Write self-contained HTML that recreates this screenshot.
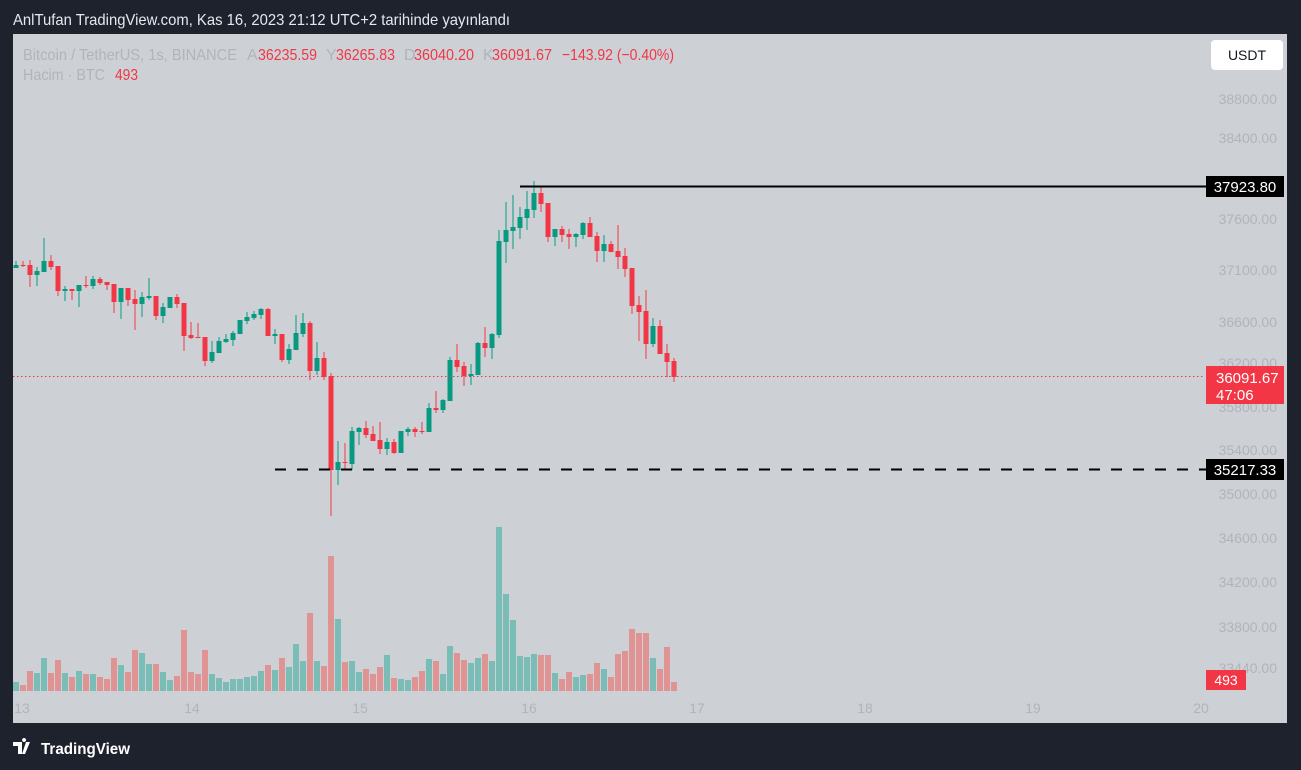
<!DOCTYPE html>
<html><head><meta charset="utf-8">
<style>
body{margin:0;width:1301px;height:770px;background:#1e222d;overflow:hidden;font-family:"Liberation Sans",sans-serif;position:relative}
.chart{position:absolute;left:13px;top:34px;width:1274px;height:689px;background:#cdd1d6}
svg{position:absolute;left:0;top:0}
</style></head><body>
<div class="chart"></div>
<svg id="s" width="1301" height="770" xmlns="http://www.w3.org/2000/svg" font-family="Liberation Sans, sans-serif">
<text x="13" y="25" font-size="16" fill="#e6e8ee" textLength="497" lengthAdjust="spacingAndGlyphs">AnlTufan TradingView.com, Kas 16, 2023 21:12 UTC+2 tarihinde yayınlandı</text>
<g font-size="14" fill="#b0b4bb" text-anchor="end">
<text x="1277" y="104">38800.00</text><text x="1277" y="143">38400.00</text><text x="1277" y="191">38000.00</text>
<text x="1277" y="224">37600.00</text><text x="1277" y="275">37100.00</text><text x="1277" y="327">36600.00</text>
<text x="1277" y="368">36200.00</text><text x="1277" y="412">35800.00</text><text x="1277" y="455">35400.00</text>
<text x="1277" y="499">35000.00</text><text x="1277" y="543">34600.00</text><text x="1277" y="587">34200.00</text>
<text x="1277" y="632">33800.00</text><text x="1277" y="673">33440.00</text>
</g>
<g font-size="14" fill="#b0b4bb" text-anchor="middle">
<text x="22" y="713">13</text><text x="192" y="713">14</text><text x="360" y="713">15</text><text x="529" y="713">16</text>
<text x="697" y="713">17</text><text x="865" y="713">18</text><text x="1033" y="713">19</text><text x="1201" y="713">20</text>
</g>
<g font-size="16">
<text x="23" y="60" fill="#b0b4bb" textLength="214" lengthAdjust="spacingAndGlyphs">Bitcoin / TetherUS, 1s, BINANCE</text>
<text x="247" y="60" fill="#b0b4bb">A</text><text x="258" y="60" fill="#f23645" textLength="59" lengthAdjust="spacingAndGlyphs">36235.59</text>
<text x="326" y="60" fill="#b0b4bb">Y</text><text x="336" y="60" fill="#f23645" textLength="59" lengthAdjust="spacingAndGlyphs">36265.83</text>
<text x="404" y="60" fill="#b0b4bb">D</text><text x="414" y="60" fill="#f23645" textLength="60" lengthAdjust="spacingAndGlyphs">36040.20</text>
<text x="483" y="60" fill="#b0b4bb">K</text><text x="492" y="60" fill="#f23645" textLength="60" lengthAdjust="spacingAndGlyphs">36091.67</text>
<text x="562" y="60" fill="#f23645" textLength="112" lengthAdjust="spacingAndGlyphs">−143.92 (−0.40%)</text>
<text x="23" y="80" fill="#b0b4bb" textLength="82" lengthAdjust="spacingAndGlyphs">Hacim · BTC</text>
<text x="115" y="80" fill="#f23645" textLength="23" lengthAdjust="spacingAndGlyphs">493</text>
</g>
<rect x="1211" y="40" width="72" height="30" rx="4" fill="#fff"/>
<text x="1247" y="60" font-size="14" text-anchor="middle" fill="#131722">USDT</text>
<g id="vol"></g><g id="cnd"></g>
<line x1="13" y1="376.5" x2="1205" y2="376.5" stroke="#f23645" stroke-dasharray="1.5 2.5" stroke-width="1"/>
<line x1="520" y1="186.5" x2="1206" y2="186.5" stroke="#000" stroke-width="2"/>
<line x1="275" y1="469.5" x2="1206" y2="469.5" stroke="#000" stroke-width="2" stroke-dasharray="11 11"/>
<rect x="1206" y="176" width="78" height="21" fill="#000"/>
<text x="1245" y="192" font-size="15" fill="#fff" text-anchor="middle">37923.80</text>
<rect x="1206" y="459" width="78" height="21" fill="#000"/>
<text x="1245" y="475" font-size="15" fill="#fff" text-anchor="middle">35217.33</text>
<rect x="1206" y="366" width="78" height="38" fill="#f23645"/>
<text x="1216" y="383" font-size="15" fill="#fff">36091.67</text>
<text x="1216" y="400" font-size="15" fill="#fff">47:06</text>
<rect x="1206" y="670" width="40" height="20" fill="#f23645"/>
<text x="1226" y="685" font-size="14" fill="#fff" text-anchor="middle">493</text>
<path d="M13 742h9v12h-4v-8h-5zM26 742h4l-5 12h-3zM24 742a2 2 0 1 1 0.1 0z" fill="#fff"/>
<text x="41" y="754" font-size="16" fill="#fff" font-weight="bold" textLength="89" lengthAdjust="spacingAndGlyphs">TradingView</text>
</svg>
<script>
var C=[
['g',265,268,261,268],['r',265,265,261,267],['r',265,275,260,287],['g',275,271,267,286],['g',272,261,238,272],['r',261,267,255,270],['r',266,291,266,296],['g',291,289,286,301],['r',289,291,289,300],['g',291,285,285,307],
['r',285,285,276,288],['g',286,279,276,289],['r',279,283,277,285],['r',282,285,282,290],['r',284,302,284,313],['g',302,288,288,319],['r',288,300,288,306],['r',299,304,290,330],['g',304,297,292,317],['g',298,296,278,300],
['r',296,316,296,320],['g',316,307,303,323],['g',308,297,297,308],['r',297,304,294,308],['r',303,336,303,351],['r',335,338,322,339],['r',337,337,323,338],['r',337,361,337,366],['g',361,352,341,363],['g',353,341,337,353],
['g',342,339,334,343],['g',340,333,331,346],['g',334,320,320,334],['g',321,317,312,324],['g',318,314,311,320],['g',315,309,308,319],['r',309,336,308,336],['g',336,334,329,344],['r',334,360,334,362],['g',360,349,344,364],
['g',350,333,315,350],['g',334,323,313,337],['r',323,371,321,380],['g',371,358,342,375],['r',358,377,352,380],['r',376,470,373,516],['g',470,462,441,485],['r',462,462,443,470],['g',464,431,427,470],['g',432,428,427,445],
['r',428,435,421,438],['r',434,441,426,441],['r',440,449,422,454],['g',449,442,438,455],['r',442,453,439,454],['g',453,431,431,453],['g',432,429,427,436],['r',429,432,427,437],['r',431,431,422,434],['g',432,408,403,432],
['r',408,410,391,413],['g',410,400,399,413],['g',401,360,357,401],['r',360,367,344,372],['r',366,376,362,386],['g',376,374,364,385],['g',375,343,342,375],['r',343,348,327,357],['g',348,334,333,359],['g',335,241,230,338],
['g',242,230,202,263],['g',231,227,195,249],['g',228,217,207,239],['g',218,209,191,230],['g',210,193,181,218],['r',193,204,186,212],['r',203,237,203,242],['g',237,229,229,246],['r',229,235,226,242],['r',234,237,229,249],
['g',237,234,233,247],['g',235,223,222,239],['r',223,237,217,237],['r',236,251,232,262],['g',251,244,235,262],['r',244,252,241,252],['r',251,257,225,269],['r',256,269,248,277],['r',268,306,268,314],['r',305,312,296,341],
['r',311,344,290,359],['g',344,326,318,347],['r',326,354,320,354],['r',353,362,344,377],['r',361,377,358,382]];
var V=[486,495,453,459,414,459,420,459,471,453,462,462,471,477,414,435,456,390,399,432,432,456,480,468,330,456,462,390,462,474,486,477,477,471,468,453,435,450,414,441,372,423,279,423,438,108,297,426,
423,456,447,462,441,405,474,477,480,471,453,417,423,462,378,399,420,429,414,402,423,21,222,300,408,411,402,405,405,459,477,456,471,465,462,429,447,471,402,393,327,339,339,414,447,381,486];
var ns="http://www.w3.org/2000/svg",cg=document.getElementById('cnd'),vg=document.getElementById('vol');
function el(g,t,a){var e=document.createElementNS(ns,t);for(var k in a)e.setAttribute(k,a[k]);g.appendChild(e);}
for(var i=0;i<C.length;i++){var c=C[i],x=16+7*i,col=c[0]=='g'?'#089981':'#f23645';
var t=Math.min(c[1],c[2]),b=Math.max(c[1],c[2]);
el(cg,'rect',{x:x-0.5,y:c[3],width:1,height:Math.max(1,c[4]-c[3]),fill:col});
el(cg,'rect',{x:x-2.5,y:t,width:5,height:Math.max(1,b-t),fill:col});
var vtop=520+V[i]/3;
el(vg,'rect',{x:x-3,y:vtop,width:6,height:691-vtop,fill:c[0]=='g'?'#7abdb7':'#e09393'});}
</script>
</body></html>
